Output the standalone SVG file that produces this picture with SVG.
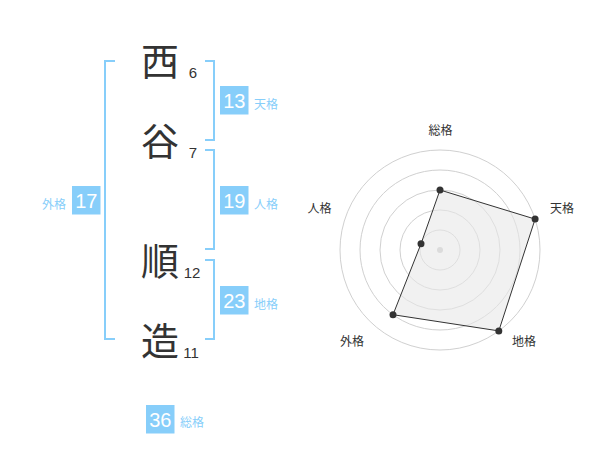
<svg xmlns="http://www.w3.org/2000/svg" width="600" height="470" viewBox="0 0 600 470">
<style>
.ch{font-family:"Noto Sans CJK JP","Noto Sans CJK SC",sans-serif;font-size:38px;fill:#333;text-anchor:middle}
.num{font-family:"Liberation Sans",Arial,sans-serif;font-size:15px;fill:#333;text-anchor:middle}
.br{fill:none;stroke:#87cefa;stroke-width:2}
.box{fill:#87cefa}
.bt{font-family:"Liberation Sans",Arial,sans-serif;font-size:20px;fill:#fff;text-anchor:middle}
.lb{font-family:"Noto Sans CJK JP","Noto Sans CJK SC",sans-serif;font-size:12px;fill:#87cefa}
.rl{font-family:"Noto Sans CJK JP","Noto Sans CJK SC",sans-serif;font-size:12px;fill:#333;text-anchor:middle}
.ring{fill:none;stroke:#d0d0d0;stroke-width:1}
.pt{fill:#333}
</style>
<rect width="600" height="470" fill="#fff"/>
<g id="chars">
<g id="c1"><text class="ch" x="160" y="75">西</text><text class="num" x="193" y="78">6</text></g>
<g id="c2"><text class="ch" x="160" y="155">谷</text><text class="num" x="193" y="158">7</text></g>
<g id="c3"><text class="ch" x="160" y="275">順</text><text class="num" x="192" y="278">12</text></g>
<g id="c4"><text class="ch" x="160" y="355">造</text><text class="num" x="191" y="358">11</text></g>
</g>
<g id="brackets">
<path class="br" d="M115,61 H105 V339 H115"/>
<path class="br" d="M205,61 H214 V140 H205"/>
<path class="br" d="M205,150 H214 V249 H205"/>
<path class="br" d="M205,260 H214 V339 H205"/>
</g>
<g id="tenkaku"><rect class="box" x="220" y="86" width="28.5" height="28.5"/><text class="bt" x="234.3" y="107.5">13</text><text class="lb" x="254" y="108.5">天格</text></g>
<g id="jinkaku"><rect class="box" x="220" y="186" width="28.5" height="28.5"/><text class="bt" x="234.3" y="207.5">19</text><text class="lb" x="254" y="208.5">人格</text></g>
<g id="chikaku"><rect class="box" x="220" y="286" width="28.5" height="28.5"/><text class="bt" x="234.3" y="307.5">23</text><text class="lb" x="254" y="308.5">地格</text></g>
<g id="gaikaku"><rect class="box" x="72" y="186" width="28.5" height="28.5"/><text class="bt" x="86.3" y="207.5">17</text><text class="lb" x="66" y="208.5" text-anchor="end">外格</text></g>
<g id="soukaku"><rect class="box" x="146" y="405" width="28.5" height="28.5"/><text class="bt" x="160.3" y="426.5">36</text><text class="lb" x="180" y="427">総格</text></g>
<g id="radar">
<circle class="ring" cx="440" cy="250" r="20"/>
<circle class="ring" cx="440" cy="250" r="40"/>
<circle class="ring" cx="440" cy="250" r="60"/>
<circle class="ring" cx="440" cy="250" r="80"/>
<circle class="ring" cx="440" cy="250" r="100"/>
<circle cx="440" cy="250" r="3" fill="#c8c8c8"/>
<polygon points="440,190 535.1,219.1 498.8,330.9 393,314.7 421,243.8" fill="#e8e8e8" fill-opacity="0.6" stroke="#333" stroke-width="1"/>
<circle class="pt" cx="440" cy="190" r="3.5"/>
<circle class="pt" cx="535.1" cy="219.1" r="3.5"/>
<circle class="pt" cx="498.8" cy="330.9" r="3.5"/>
<circle class="pt" cx="393" cy="314.7" r="3.5"/>
<circle class="pt" cx="421" cy="243.8" r="3.5"/>
<text class="rl" x="440.5" y="135">総格</text>
<text class="rl" x="562" y="212.5">天格</text>
<text class="rl" x="524" y="346">地格</text>
<text class="rl" x="352" y="346">外格</text>
<text class="rl" x="319.5" y="212.5">人格</text>
</g>
</svg>
